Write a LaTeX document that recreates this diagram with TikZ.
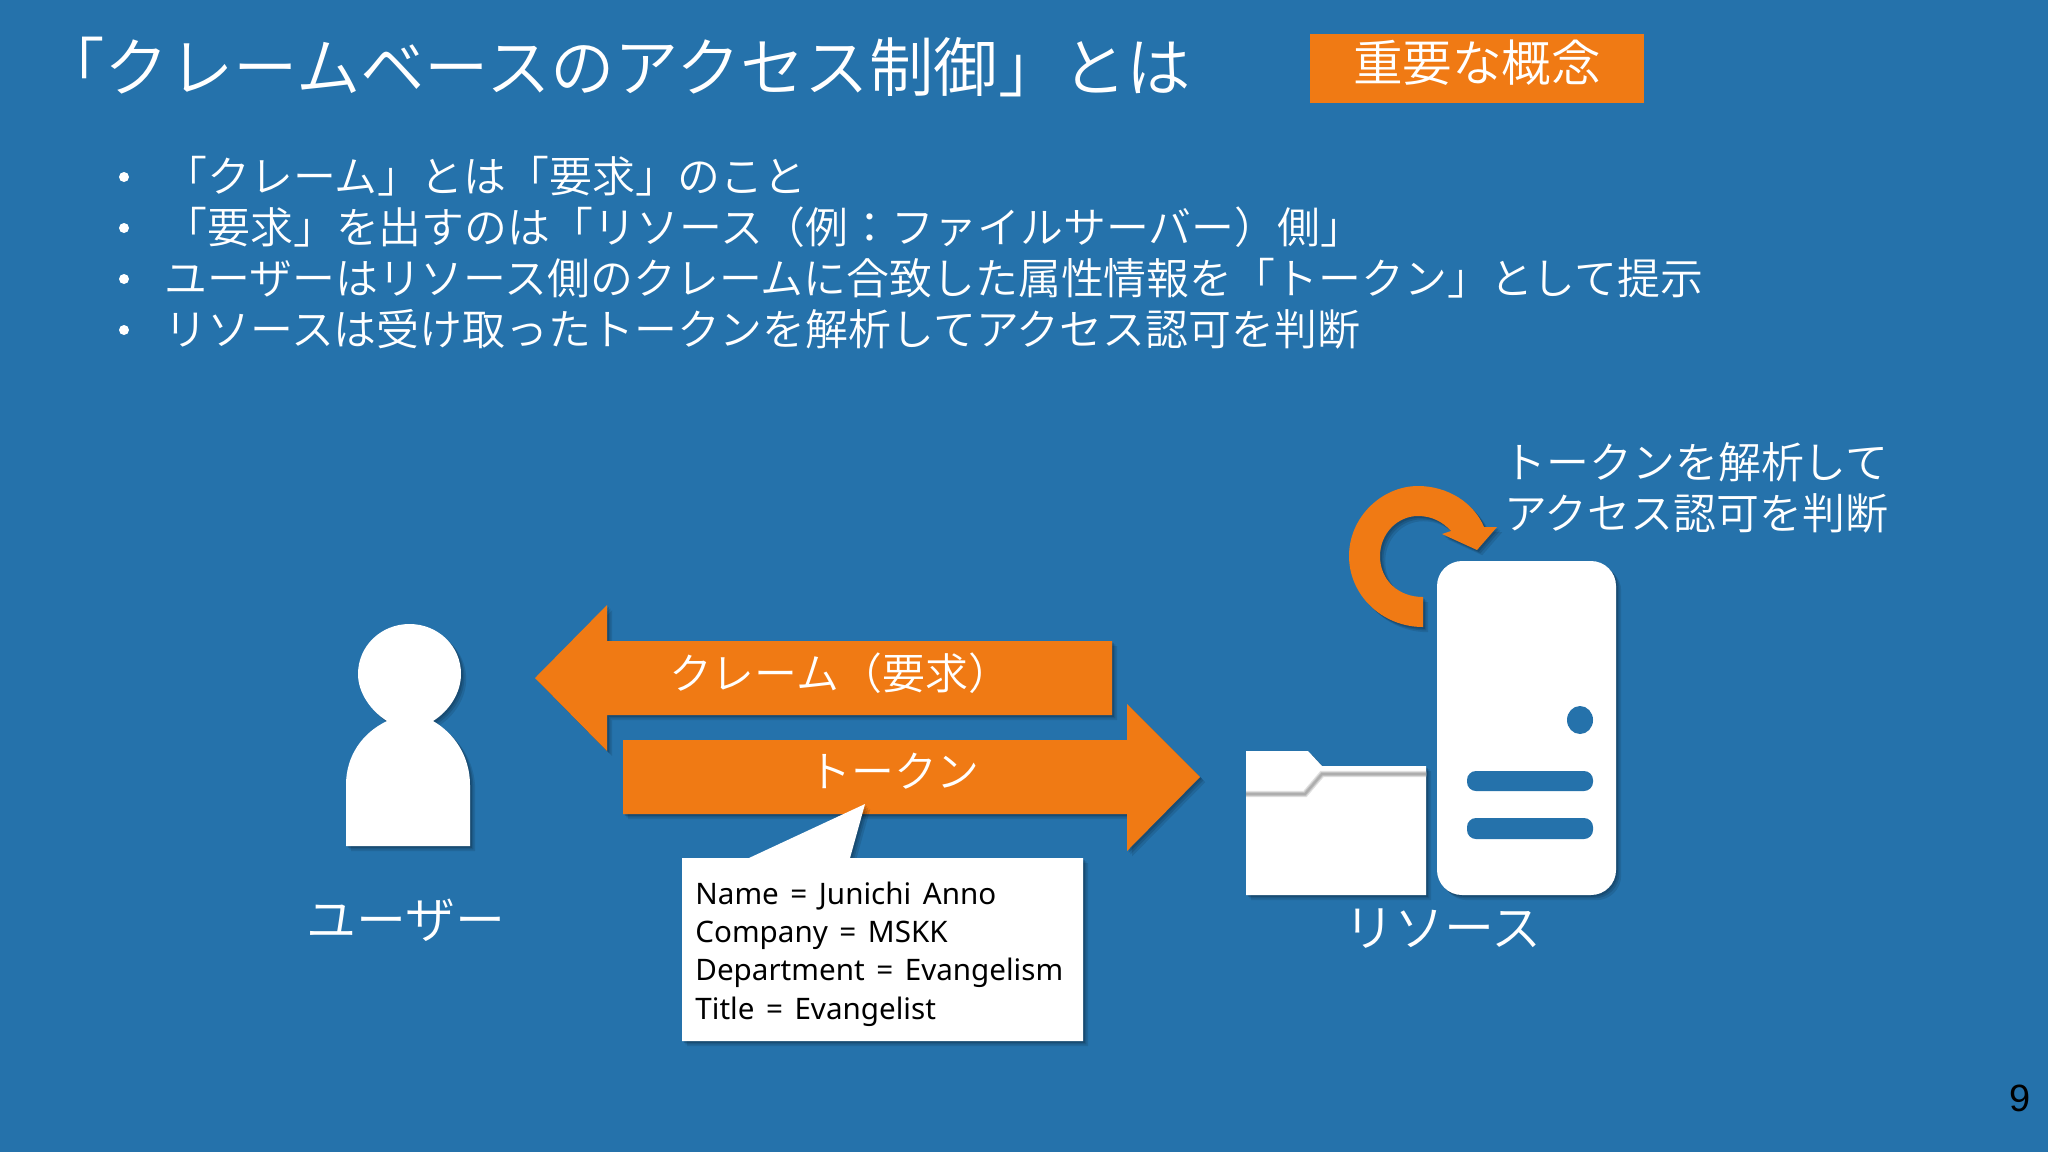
\documentclass[tikz,border=0pt]{standalone}
\usepackage{fontspec}
\usetikzlibrary{shadows}
\newfontfamily\jp[UprightFont=* DemiLight,BoldFont=* DemiLight]{Noto Sans CJK JP}
\newfontfamily\lat[WordSpace=1.5]{Noto Sans}
\newfontfamily\num{Liberation Sans}
\definecolor{bgblue}{HTML}{2572AB}
\definecolor{orangefill}{HTML}{F07A14}
\tikzset{
  softshadow/.style={
    preaction={fill=black,fill opacity=.10,transform canvas={shift={(2.6pt,-2.6pt)}}},
    preaction={fill=black,fill opacity=.12,transform canvas={shift={(1.7pt,-1.7pt)}}},
    preaction={fill=black,fill opacity=.14,transform canvas={shift={(.9pt,-.9pt)}}}},
  whiteshape/.style={fill=white,softshadow},
  orangeshape/.style={fill=orangefill,softshadow},
  jptext/.style={text=white,inner sep=0pt,font=\jp\fontsize{#1}{#1}\selectfont},
  titletext/.style={jptext=32.2,anchor=west},
  bullettext/.style={jptext=21.45,anchor=west},
  dotmark/.style={circle,fill=white,minimum size=5pt,inner sep=0pt},
  slot/.style={fill=bgblue,rounded corners=4.5pt},
  creasea/.style={draw=black!12,line width=3.2pt},
  creaseb/.style={draw=black!24,line width=2pt},
  creasec/.style={draw=black!32,line width=1pt}
}
\begin{document}
\begin{tikzpicture}[x=0.5pt,y=-0.5pt]
\useasboundingbox (0,0) rectangle (2048,1152);
\fill[bgblue] (0,0) rectangle (2048,1152);

% heading
\node[titletext] (title) at (40,67) {「クレームベースのアクセス制御」とは};
\node[fill=orangefill,minimum width=167pt,minimum height=34.5pt,inner sep=0pt] (badge) at (1477,68.5) {};
\node[jptext=24.8] (badgetext) at (1477,63) {重要な概念};

% bullets
\node[dotmark] (b1) at (124,177) {};
\node[dotmark] (b2) at (124,228) {};
\node[dotmark] (b3) at (124,279) {};
\node[dotmark] (b4) at (124,330) {};
\node[bullettext] (l1) at (164,176) {「クレーム」とは「要求」のこと};
\node[bullettext] (l2) at (164,227) {「要求」を出すのは「リソース（例：ファイルサーバー）側」};
\node[bullettext] (l3) at (164,278) {ユーザーはリソース側のクレームに合致した属性情報を「トークン」として提示};
\node[bullettext] (l4) at (164,329) {リソースは受け取ったトークンを解析してアクセス認可を判断};

% user
\path[whiteshape] (409.5,624) .. controls (381,624) and (358,646) .. (358,674)
  .. controls (358,693) and (371,711) .. (387,721)
  .. controls (362,733) and (346,756) .. (346,785)
  -- (346,846) -- (470,846) -- (470,785)
  .. controls (470,756) and (454,733) .. (433,721)
  .. controls (449,711) and (461,693) .. (461,674)
  .. controls (461,646) and (438,624) .. (409.5,624) -- cycle;
\node[jptext=25] (userlabel) at (406,920) {ユーザー};

% arrows
\path[orangeshape] (535,678) -- (607,605) -- (607,641) -- (1112,641) -- (1112,715) -- (607,715) -- (607,751) -- cycle;
\path[orangeshape] (623,740) -- (1127,740) -- (1127,704) -- (1200,777) -- (1127,851) -- (1127,814) -- (623,814) -- cycle;
\node[jptext=21.45] (claimlabel) at (840,673) {クレーム（要求）};
\node[jptext=21.45] (tokenlabel) at (894,771) {トークン};

% callout
\path[whiteshape] (682,858) -- (749,858) -- (865,804) -- (850,858) -- (1083,858) -- (1083,1041) -- (682,1041) -- cycle;
\node[anchor=west,align=left,inner sep=0pt,text=black,font=\lat\fontsize{14.8}{19.2}\selectfont] (attrs) at (695,954)
  {Name = Junichi Anno\\Company = MSKK\\Department = Evangelism\\Title = Evangelist};

% circular arrow
\path[orangeshape] (1423,627) .. controls (1382,627) and (1349,595) .. (1349,556)
  .. controls (1349,517) and (1382,486) .. (1418,486)
  .. controls (1448,486) and (1474,503) .. (1484,527)
  -- (1497,527) -- (1477,550) -- (1442,534) -- (1451,531)
  .. controls (1443,522) and (1432,516) .. (1418,516)
  .. controls (1397,516) and (1380,534) .. (1380,556)
  .. controls (1380,580) and (1398,597) .. (1423,597) -- cycle;
\node[jptext=21.45,align=center] (judgelabel) at (1696,488) {トークンを解析して\\[4pt]アクセス認可を判断};

% folder
\path[whiteshape] (1246,751) -- (1308,751) -- (1322,766) -- (1426,766) -- (1426,895) -- (1246,895) -- cycle;
\path[creasea] (1246,794) -- (1305,794) -- (1322,774) -- (1426,774);
\path[creaseb] (1246,794) -- (1305,794) -- (1322,774) -- (1426,774);
\path[creasec] (1246,794) -- (1305,794) -- (1322,774) -- (1426,774);

% server
\path[whiteshape,rounded corners=12.5pt] (1437,561) rectangle (1616,895);
\fill[bgblue] (1580,720) ellipse [x radius=13,y radius=14];
\path[slot] (1467,771) rectangle (1593,791);
\path[slot] (1467,818) rectangle (1593,839);
\node[jptext=25] (reslabel) at (1443,929) {リソース};

% page number
\node[inner sep=0pt,text=black,font=\num\fontsize{19}{19}\selectfont] (pageno) at (2020,1098) {9};
\end{tikzpicture}
\end{document}
